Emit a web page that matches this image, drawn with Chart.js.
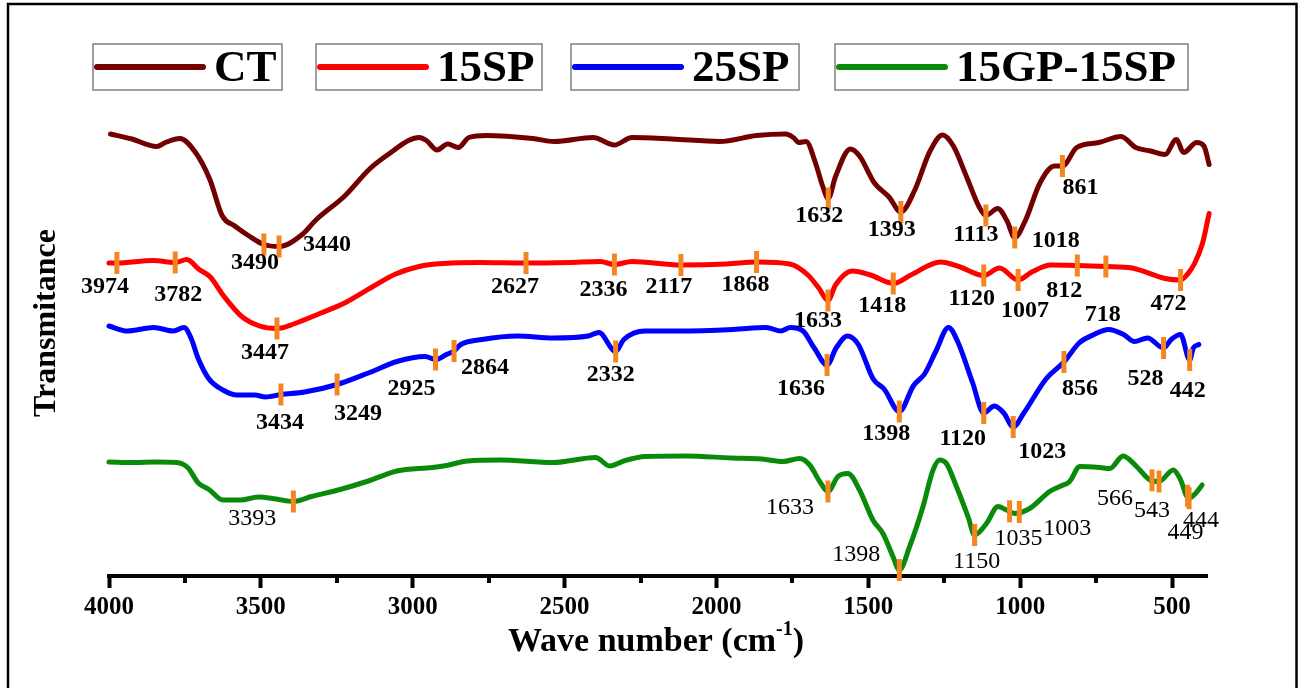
<!DOCTYPE html>
<html>
<head>
<meta charset="utf-8">
<script src="https://cdn.jsdelivr.net/npm/chart.js@4.4.1/dist/chart.umd.min.js"></script>
<style>
  html, body { margin: 0; padding: 0; background: #fff; }
  #wrap { width: 1299px; height: 688px; }
</style>
</head>
<body>
<div id="wrap"><canvas id="ftirChart" width="1299" height="688"></canvas></div>
<script>
// FTIR spectra: wave number (cm-1) vs. stacked transmittance (a.u.)
const seriesNames = ['CT', '15SP', '25SP', '15GP-15SP'];
const seriesColors = ['#720000', '#ff0000', '#0000ff', '#0a8a0a'];
const peakColor = '#f5861f';

const xTicks = [4000, 3500, 3000, 2500, 2000, 1500, 1000, 500];
const xMinorTicks = [3750, 3250, 2750, 2250, 1750, 1250, 750];

// CT
const ctWave = [3995, 3925, 3843, 3814, 3767, 3715, 3668, 3627, 3586, 3539, 3490, 3440, 3364, 3317, 3224, 3142, 3072, 3014, 2979, 2955, 2920, 2885, 2850, 2815, 2757, 2605, 2535, 2406, 2336, 2278, 2147, 1990, 1868, 1771, 1747, 1729, 1705, 1674, 1650, 1632, 1608, 1559, 1529, 1480, 1432, 1393, 1347, 1299, 1256, 1220, 1177, 1135, 1113, 1074, 1044, 1018, 983, 935, 887, 861, 814, 741, 668, 620, 571, 523, 486, 462, 419, 395, 378];
const ctTrans = [88.4, 87.4, 85.9, 86.7, 87.5, 84.7, 79.3, 72.0, 70.0, 68.0, 66.3, 65.9, 68.3, 71.3, 76.0, 81.4, 84.7, 87.1, 87.7, 87.1, 85.2, 86.4, 85.7, 87.7, 88.1, 87.5, 86.9, 87.7, 86.2, 87.7, 87.4, 86.9, 88.1, 88.4, 87.7, 86.7, 86.9, 82.6, 77.9, 75.5, 79.9, 85.4, 84.0, 78.6, 75.8, 72.8, 77.2, 84.7, 88.2, 86.0, 79.9, 73.8, 72.1, 73.5, 71.1, 67.7, 71.1, 78.6, 82.0, 82.0, 85.7, 86.7, 87.9, 85.7, 85.0, 84.3, 87.3, 84.7, 86.7, 86.0, 82.3];
const ctPeaks = [3490, 3440, 1632, 1393, 1113, 1018, 861];

// 15SP
const sp15Wave = [4000, 3974, 3855, 3782, 3744, 3703, 3668, 3621, 3563, 3504, 3447, 3388, 3306, 3224, 3131, 3060, 2979, 2897, 2780, 2627, 2488, 2383, 2336, 2278, 2117, 1965, 1868, 1759, 1699, 1662, 1633, 1608, 1553, 1493, 1418, 1360, 1262, 1202, 1120, 1068, 1007, 959, 899, 812, 718, 632, 523, 472, 450, 426, 400, 378];
const sp15Trans = [62.6, 62.6, 63.1, 62.7, 63.3, 61.3, 59.9, 55.9, 51.9, 50.0, 49.5, 50.5, 52.5, 54.6, 57.9, 60.3, 61.9, 62.5, 62.7, 62.6, 62.7, 62.9, 62.3, 62.9, 62.2, 62.4, 62.8, 62.4, 60.2, 57.5, 55.1, 58.2, 61.0, 60.2, 58.5, 60.2, 62.8, 61.9, 60.1, 61.6, 59.2, 60.9, 62.2, 62.1, 61.9, 61.6, 59.5, 59.2, 60.3, 62.5, 66.5, 72.5];
const sp15Peaks = [3974, 3782, 3447, 2627, 2336, 2117, 1868, 1633, 1418, 1120, 1007, 812, 718, 472];

// 25SP
const sp25Wave = [4000, 3940, 3853, 3788, 3753, 3730, 3707, 3672, 3625, 3578, 3520, 3485, 3434, 3356, 3249, 3146, 3052, 2959, 2925, 2889, 2864, 2842, 2772, 2655, 2538, 2422, 2387, 2332, 2305, 2235, 2127, 1945, 1836, 1788, 1757, 1715, 1678, 1636, 1606, 1569, 1533, 1484, 1448, 1398, 1351, 1315, 1278, 1236, 1206, 1157, 1120, 1085, 1054, 1023, 988, 915, 856, 806, 757, 709, 660, 624, 581, 528, 503, 472, 442, 430, 412];
const sp25Trans = [50.0, 49.0, 49.7, 49.0, 49.7, 47.6, 43.6, 39.5, 37.2, 36.2, 36.2, 35.8, 36.3, 36.8, 38.3, 40.6, 42.9, 43.9, 43.3, 44.3, 45.0, 46.3, 47.3, 48.0, 47.6, 48.0, 48.7, 44.9, 47.3, 49.0, 49.0, 49.3, 49.7, 49.0, 49.7, 49.0, 45.6, 42.2, 45.6, 48.0, 46.3, 39.4, 37.4, 32.9, 38.1, 40.4, 44.9, 49.7, 46.9, 38.7, 32.6, 34.0, 32.6, 29.8, 32.6, 39.4, 42.8, 46.6, 48.3, 49.3, 48.3, 46.9, 47.6, 45.6, 47.3, 48.3, 43.2, 45.6, 46.3];
const sp25Peaks = [3434, 3249, 2925, 2864, 2332, 1636, 1398, 1120, 1023, 856, 528, 442];

// 15GP-15SP
const gpWave = [4000, 3917, 3847, 3777, 3741, 3706, 3671, 3625, 3566, 3508, 3450, 3393, 3333, 3239, 3146, 3052, 2935, 2889, 2819, 2713, 2538, 2398, 2351, 2305, 2235, 2100, 1950, 1850, 1781, 1726, 1693, 1660, 1633, 1600, 1567, 1529, 1485, 1452, 1419, 1398, 1364, 1320, 1287, 1265, 1243, 1210, 1172, 1150, 1111, 1073, 1045, 1018, 969, 903, 870, 837, 804, 738, 705, 661, 617, 573, 543, 496, 474, 445, 423, 401];
const gpTrans = [22.8, 22.7, 22.8, 22.7, 21.7, 18.6, 17.3, 15.2, 15.2, 15.8, 15.4, 14.9, 15.9, 17.3, 19.0, 21.0, 21.7, 22.1, 23.0, 23.2, 22.7, 23.7, 22.0, 23.0, 23.9, 24.0, 23.6, 23.4, 22.9, 23.5, 22.2, 18.9, 16.9, 19.9, 20.5, 17.2, 11.2, 8.5, 3.9, 1.2, 5.9, 13.9, 21.2, 23.2, 22.5, 17.9, 11.9, 8.2, 10.5, 13.9, 13.2, 12.5, 13.5, 16.9, 17.9, 18.9, 21.9, 21.7, 21.5, 24.0, 21.9, 19.2, 18.9, 21.2, 19.5, 15.5, 16.5, 18.2];
const gpPeaks = [3393, 1633, 1398, 1150, 1035, 1003, 566, 543, 449, 444];

// label placement around each peak marker: [dx, dy] in px
const ctLabelPos = [[-9, 18], [48, -2], [-9, 17], [-9, 18], [-10, 19], [41, 3], [18, 22]];
const sp15LabelPos = [[-12, 24], [3, 32], [-12, 24], [-11, 24], [-11, 25], [-12, 22], [-11, 23], [-10, 20], [-11, 22], [-12, 23], [7, 31], [-13, 25], [-3, 48], [-12, 24]];
const sp25LabelPos = [[-1, 28], [21, 29], [-24, 29], [31, 17], [-5, 23], [-26, 24], [-13, 22], [-21, 26], [29, 25], [16, 27], [-18, 31], [-2, 31]];
const gpLabelPos = [[-41, 17], [-38, 16], [-43, -15], [2, 27], [9, 27], [48, 17], [-37, 18], [-7, 29], [-2, 37], [12, 22]];

const waves = [ctWave, sp15Wave, sp25Wave, gpWave];
const trans = [ctTrans, sp15Trans, sp25Trans, gpTrans];
const peaks = [ctPeaks, sp15Peaks, sp25Peaks, gpPeaks];
const labelPos = [ctLabelPos, sp15LabelPos, sp25LabelPos, gpLabelPos];
const labelBold = [true, true, true, false];

const serif = '"Liberation Serif", "Times New Roman", serif';

// transmittance on a spectrum at a given wave number (wave arrays run high -> low)
function transAt(w, t, x) {
  for (let i = 0; i < w.length - 1; i++) {
    if (x <= w[i] && x >= w[i + 1]) {
      const f = (w[i] - x) / (w[i] - w[i + 1]);
      return t[i] + f * (t[i + 1] - t[i]);
    }
  }
  return x > w[0] ? t[0] : t[t.length - 1];
}

const datasets = [];
seriesNames.forEach((name, s) => {
  datasets.push({
    label: name,
    data: waves[s].map((x, i) => ({ x: x, y: trans[s][i] })),
    borderColor: seriesColors[s],
    borderWidth: 5,
    pointRadius: 0,
    cubicInterpolationMode: 'monotone',
    borderCapStyle: 'round',
    borderJoinStyle: 'round',
    clip: false,
    order: 2
  });
});
seriesNames.forEach((name, s) => {
  datasets.push({
    label: name + ' peaks',
    data: peaks[s].map(x => ({ x: x, y: transAt(waves[s], trans[s], x) })),
    showLine: false,
    pointStyle: 'line',
    pointRotation: 90,
    pointRadius: 11,
    pointBorderWidth: 5,
    pointBorderColor: peakColor,
    pointBackgroundColor: peakColor,
    clip: false,
    order: 1
  });
});

// legend boxes along the top
const legendBoxes = [
  { x: 93, w: 189 },
  { x: 316, w: 226 },
  { x: 571, w: 228 },
  { x: 835, w: 353 }
];

const decor = {
  id: 'decor',
  beforeDraw(chart) {
    const ctx = chart.ctx;
    ctx.save();
    ctx.fillStyle = '#fff';
    ctx.fillRect(0, 0, chart.width, chart.height);
    ctx.strokeStyle = '#000';
    ctx.lineWidth = 2.5;
    ctx.strokeRect(8, 4, 1288.5, 720);
    ctx.restore();
  },
  afterDraw(chart) {
    const ctx = chart.ctx;
    const xs = chart.scales.x;
    const base = chart.chartArea.bottom;
    ctx.save();

    // minor ticks
    ctx.strokeStyle = '#000';
    ctx.lineWidth = 4;
    xMinorTicks.forEach(v => {
      const px = Math.round(xs.getPixelForValue(v));
      ctx.beginPath();
      ctx.moveTo(px, base);
      ctx.lineTo(px, base + 7);
      ctx.stroke();
    });

    // peak labels
    ctx.fillStyle = '#000';
    ctx.textAlign = 'center';
    ctx.textBaseline = 'middle';
    peaks.forEach((list, s) => {
      const meta = chart.getDatasetMeta(seriesNames.length + s);
      ctx.font = (labelBold[s] ? 'bold ' : '') + '24px ' + serif;
      list.forEach((p, i) => {
        const pt = meta.data[i];
        const off = labelPos[s][i];
        ctx.fillText(String(p), pt.x + off[0], pt.y + off[1]);
      });
    });

    // legend
    legendBoxes.forEach((b, s) => {
      ctx.strokeStyle = '#808080';
      ctx.lineWidth = 1.5;
      ctx.strokeRect(b.x, 44, b.w, 46);
      ctx.strokeStyle = seriesColors[s];
      ctx.lineWidth = 6;
      ctx.lineCap = 'round';
      ctx.beginPath();
      ctx.moveTo(b.x + 4, 67);
      ctx.lineTo(b.x + 110, 67);
      ctx.stroke();
      ctx.fillStyle = '#000';
      ctx.textAlign = 'left';
      ctx.font = 'bold 45px ' + serif;
      ctx.fillText(seriesNames[s], b.x + 121, 69);
    });

    // axis titles
    ctx.font = 'bold 32px ' + serif;
    ctx.textAlign = 'center';
    ctx.save();
    ctx.translate(47, 323);
    ctx.rotate(-Math.PI / 2);
    ctx.fillText('Transmitance', 0, 0);
    ctx.restore();

    const t1 = 'Wave number (cm', t2 = '-1', t3 = ')';
    ctx.font = 'bold 34px ' + serif;
    const w1 = ctx.measureText(t1).width, w3 = ctx.measureText(t3).width;
    ctx.font = 'bold 20px ' + serif;
    const w2 = ctx.measureText(t2).width;
    let tx = 656 - (w1 + w2 + w3) / 2;
    ctx.textAlign = 'left';
    ctx.font = 'bold 34px ' + serif;
    ctx.fillText(t1, tx, 642);
    tx += w1;
    ctx.font = 'bold 20px ' + serif;
    ctx.fillText(t2, tx, 630);
    tx += w2;
    ctx.font = 'bold 34px ' + serif;
    ctx.fillText(t3, tx, 642);

    ctx.restore();
  }
};

new Chart(document.getElementById('ftirChart').getContext('2d'), {
  type: 'line',
  data: { datasets: datasets },
  options: {
    responsive: false,
    animation: false,
    layout: { padding: { left: 109, right: 92, top: 76, bottom: 0 } },
    plugins: {
      legend: { display: false },
      tooltip: { enabled: false }
    },
    scales: {
      x: {
        type: 'linear',
        reverse: true,
        min: 385,
        max: 4000,
        afterBuildTicks: scale => { scale.ticks = xTicks.map(v => ({ value: v })); },
        afterFit: scale => { scale.height = 112; },
        ticks: {
          color: '#000',
          font: { family: serif, weight: 'bold', size: 25 },
          padding: 5,
          maxRotation: 0,
          autoSkip: false,
          callback: v => String(v)
        },
        grid: {
          drawOnChartArea: false,
          drawTicks: true,
          tickLength: 12,
          tickWidth: 4,
          tickColor: '#000'
        },
        border: { display: true, color: '#000', width: 4 }
      },
      y: {
        display: false,
        min: 0,
        max: 100
      }
    }
  },
  plugins: [decor]
});
</script>
</body>
</html>
